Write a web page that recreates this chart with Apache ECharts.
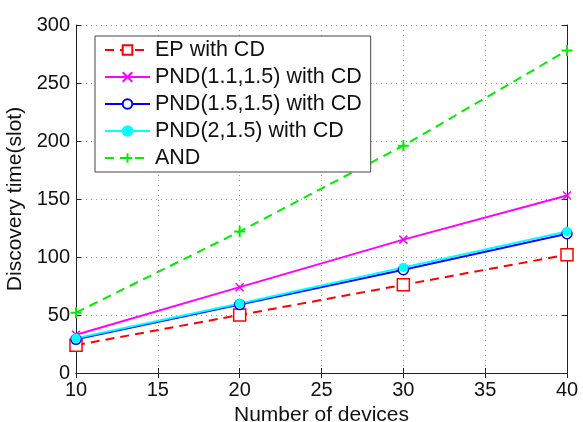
<!DOCTYPE html>
<html>
<head>
<meta charset="utf-8">
<script src="https://cdn.jsdelivr.net/npm/echarts@6/dist/echarts.min.js"></script>
<style>
  html, body { margin: 0; padding: 0; background: #fff; }
  #chart { width: 583px; height: 422px; }
</style>
</head>
<body>
<div id="chart"></div>
<script>
// Datos
const devices = [10, 20, 30, 40];
const epWithCd = [24, 50, 76, 102];
const pnd11WithCd = [33, 74, 115, 153];
const pnd15WithCd = [29, 59, 89, 120];
const pnd2WithCd = [30, 60, 91, 122];
const andValues = [52, 122, 196, 278];

const seriesNames = ['EP with CD', 'PND(1.1,1.5) with CD', 'PND(1.5,1.5) with CD', 'PND(2,1.5) with CD', 'AND'];

const FONT = 'Liberation Sans, Arial, sans-serif';
const crossPath = 'path://M0,0L10,10M10,0L0,10';
const plusPath = 'path://M5,0L5,10M0,5L10,5';

function pairs(values) {
    return devices.map((d, i) => [d, values[i]]);
}

function makeSeries(name, values, color, dashed, symbol, size, filled, stroke) {
    return {
        name: name,
        type: 'line',
        data: pairs(values),
        symbol: symbol,
        symbolSize: size,
        showSymbol: true,
        lineStyle: { color: color, width: 2, type: dashed ? [9, 6] : 'solid' },
        itemStyle: {
            color: filled ? color : '#fff',
            borderColor: color,
            borderWidth: stroke
        },
        emphasis: { disabled: true }
    };
}

const chart = echarts.init(document.getElementById('chart'));

const axisLine = { show: true, lineStyle: { color: '#222', width: 1 } };
const dotted = { show: true, lineStyle: { color: '#999', type: [1, 4], width: 1 } };
const ticks = { show: true, inside: true, length: 5, lineStyle: { color: '#222' } };

chart.setOption({
    animation: false,
    grid: { left: 76, right: 16, top: 25, bottom: 49, outerBoundsMode: 'none' },
    legend: {
        orient: 'vertical',
        left: 95,
        top: 36,
        backgroundColor: '#fff',
        borderColor: '#444',
        borderWidth: 1,
        padding: [3, 9, 3, 9],
        itemWidth: 45,
        itemHeight: 12,
        itemGap: 5,
        textStyle: { fontFamily: FONT, fontSize: 21.5, color: '#111' },
        data: seriesNames
    },
    xAxis: [{
        type: 'value',
        min: 10, max: 40, interval: 5,
        name: 'Number of devices',
        nameLocation: 'middle',
        nameGap: 29,
        nameTextStyle: { fontFamily: FONT, fontSize: 21, color: '#111' },
        axisLine: axisLine,
        axisTick: ticks,
        axisLabel: { fontFamily: FONT, fontSize: 20, color: '#111', margin: 7 },
        splitLine: dotted
    }, {
        type: 'value', position: 'top',
        min: 10, max: 40, interval: 5,
        axisLine: axisLine,
        axisTick: ticks,
        axisLabel: { show: false },
        splitLine: { show: false }
    }],
    yAxis: [{
        type: 'value',
        min: 0, max: 300, interval: 50,
        name: 'Discovery time(slot)',
        nameLocation: 'middle',
        nameGap: 45,
        nameTextStyle: { fontFamily: FONT, fontSize: 21, color: '#111' },
        axisLine: axisLine,
        axisTick: ticks,
        axisLabel: { fontFamily: FONT, fontSize: 20, color: '#111', margin: 6 },
        splitLine: dotted
    }, {
        type: 'value', position: 'right',
        min: 0, max: 300, interval: 50,
        axisLine: axisLine,
        axisTick: ticks,
        axisLabel: { show: false },
        splitLine: { show: false }
    }],
    series: [
        makeSeries(seriesNames[0], epWithCd, '#ff0000', true, 'rect', 12, false, 1.5),
        makeSeries(seriesNames[1], pnd11WithCd, '#ff00ff', false, crossPath, 8, false, 1.5),
        makeSeries(seriesNames[2], pnd15WithCd, '#0000ff', false, 'circle', 10, false, 1.5),
        makeSeries(seriesNames[3], pnd2WithCd, '#00ffff', false, 'circle', 9, true, 0.5),
        makeSeries(seriesNames[4], andValues, '#00ee00', true, plusPath, 11, false, 2)
    ]
});
</script>
</body>
</html>
